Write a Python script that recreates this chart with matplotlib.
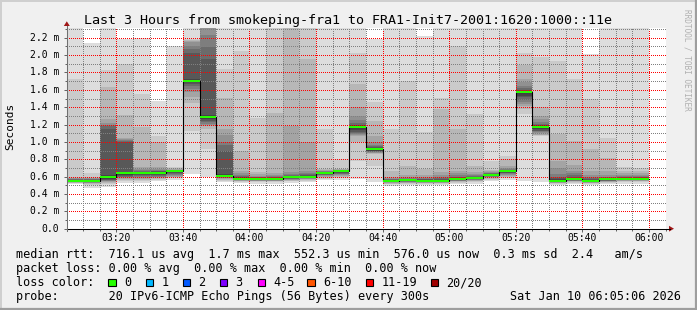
import numpy as np
import matplotlib
matplotlib.use("Agg")
import matplotlib.pyplot as plt
from matplotlib.patches import Polygon, Rectangle
from matplotlib.lines import Line2D

# ---------------- data ----------------
title = "Last 3 Hours from smokeping-fra1 to FRA1-Init7-2001:1620:1000::11e"
window_start = "03:05:06"
window_end = "06:05:06"
first_bar = "03:05"
step_min = 5

# median RTT per 5-minute step (ms)
median_ms = [0.555, 0.555, 0.595, 0.64, 0.64, 0.645, 0.66, 1.705, 1.29, 0.605,
             0.578, 0.576, 0.576, 0.59, 0.60, 0.645, 0.665, 1.175, 0.918, 0.553,
             0.556, 0.555, 0.555, 0.57, 0.58, 0.62, 0.66, 1.57, 1.175, 0.555,
             0.57, 0.555, 0.567, 0.578, 0.576]

# 20 sorted ping RTTs per step (ms); values above the chart top are clipped
pings_ms = [
    [0.515, 0.525, 0.53, 0.535, 0.538, 0.541, 0.544, 0.547, 0.55, 0.553, 0.558, 0.562, 0.566, 0.57, 0.575, 0.58, 0.585, 0.595, 1.72, 2.5],
    [0.465, 0.50, 0.515, 0.525, 0.53, 0.535, 0.54, 0.545, 0.55, 0.553, 0.558, 0.562, 0.566, 0.57, 0.575, 0.58, 0.585, 0.60, 0.64, 2.14],
    [0.48, 0.51, 0.53, 0.54, 0.545, 0.55, 0.56, 0.565, 0.575, 0.585, 0.605, 0.615, 1.15, 1.18, 1.20, 1.22, 1.26, 1.636, 1.83, 2.5],
    [0.53, 0.55, 0.56, 0.57, 0.58, 0.59, 0.60, 0.61, 0.62, 0.632, 0.648, 0.655, 1.0, 1.01, 1.02, 1.03, 1.05, 1.31, 1.90, 2.19],
    [0.53, 0.55, 0.565, 0.575, 0.585, 0.595, 0.605, 0.615, 0.625, 0.634, 0.646, 0.652, 0.658, 0.665, 0.675, 0.69, 0.71, 1.17, 1.55, 2.2],
    [0.545, 0.56, 0.57, 0.58, 0.59, 0.60, 0.61, 0.62, 0.63, 0.64, 0.65, 0.656, 0.662, 0.668, 0.675, 0.685, 0.71, 1.0, 1.07, 1.47],
    [0.56, 0.58, 0.59, 0.60, 0.61, 0.62, 0.63, 0.64, 0.648, 0.655, 0.663, 0.667, 0.67, 0.674, 0.678, 0.682, 0.688, 0.695, 0.71, 2.11],
    [0.63, 1.13, 1.45, 1.513, 1.578, 1.61, 1.647, 1.67, 1.685, 1.695, 1.715, 1.725, 2.03, 2.07, 2.11, 2.15, 2.165, 2.17, 2.19, 2.5],
    [0.59, 0.918, 1.15, 1.187, 1.20, 1.21, 1.225, 1.24, 1.26, 1.28, 1.30, 1.31, 1.955, 2.09, 2.23, 2.35, 2.4, 2.45, 2.5, 2.55],
    [0.54, 0.555, 0.565, 0.575, 0.58, 0.585, 0.59, 0.595, 0.598, 0.601, 0.615, 0.63, 0.90, 0.96, 1.0, 1.08, 1.15, 1.51, 1.84, 2.5],
    [0.525, 0.54, 0.55, 0.555, 0.56, 0.563, 0.566, 0.569, 0.572, 0.575, 0.584, 0.59, 0.597, 0.605, 0.62, 0.64, 0.67, 0.89, 2.05, 2.5],
    [0.52, 0.535, 0.545, 0.55, 0.555, 0.56, 0.564, 0.567, 0.57, 0.573, 0.58, 0.585, 0.59, 0.595, 0.60, 0.61, 0.625, 0.65, 1.28, 2.5],
    [0.52, 0.535, 0.545, 0.55, 0.555, 0.56, 0.564, 0.567, 0.57, 0.573, 0.58, 0.585, 0.59, 0.597, 0.605, 0.62, 0.64, 1.33, 2.4, 2.5],
    [0.53, 0.545, 0.555, 0.56, 0.565, 0.57, 0.575, 0.58, 0.584, 0.587, 0.595, 0.60, 0.61, 0.62, 0.635, 0.65, 1.18, 2.4, 2.45, 2.5],
    [0.54, 0.555, 0.565, 0.57, 0.575, 0.58, 0.585, 0.59, 0.594, 0.597, 0.605, 0.61, 0.62, 0.63, 0.645, 0.66, 1.0, 1.955, 2.4, 2.5],
    [0.56, 0.575, 0.585, 0.595, 0.605, 0.615, 0.622, 0.63, 0.636, 0.641, 0.649, 0.652, 0.655, 0.658, 0.662, 0.668, 0.675, 0.69, 1.15, 2.5],
    [0.56, 0.58, 0.595, 0.605, 0.615, 0.625, 0.635, 0.645, 0.652, 0.66, 0.668, 0.67, 0.672, 0.674, 0.677, 0.68, 0.685, 0.69, 0.80, 2.5],
    [0.57, 0.78, 1.0, 1.07, 1.08, 1.09, 1.10, 1.11, 1.14, 1.165, 1.183, 1.19, 1.20, 1.22, 1.25, 1.30, 1.40, 1.667, 2.03, 2.5],
    [0.54, 0.72, 0.86, 0.87, 0.875, 0.88, 0.885, 0.89, 0.90, 0.91, 0.924, 0.93, 0.94, 0.95, 0.97, 1.0, 1.07, 1.244, 1.455, 2.185],
    [0.495, 0.51, 0.52, 0.527, 0.533, 0.538, 0.542, 0.545, 0.548, 0.55, 0.556, 0.559, 0.563, 0.568, 0.575, 0.585, 0.60, 0.67, 1.15, 2.5],
    [0.50, 0.515, 0.525, 0.53, 0.535, 0.54, 0.544, 0.547, 0.55, 0.553, 0.559, 0.562, 0.568, 0.575, 0.585, 0.60, 0.62, 0.726, 1.705, 2.5],
    [0.50, 0.515, 0.525, 0.53, 0.535, 0.54, 0.544, 0.547, 0.55, 0.552, 0.558, 0.562, 0.568, 0.575, 0.585, 0.60, 0.62, 0.69, 1.11, 2.22],
    [0.50, 0.515, 0.525, 0.53, 0.535, 0.54, 0.544, 0.547, 0.55, 0.552, 0.56, 0.566, 0.575, 0.585, 0.60, 0.62, 0.65, 1.38, 1.51, 2.5],
    [0.51, 0.525, 0.535, 0.545, 0.55, 0.555, 0.558, 0.562, 0.565, 0.567, 0.575, 0.58, 0.59, 0.60, 0.62, 0.64, 0.67, 1.15, 2.11, 2.5],
    [0.52, 0.535, 0.545, 0.555, 0.56, 0.565, 0.568, 0.572, 0.575, 0.577, 0.585, 0.59, 0.597, 0.605, 0.615, 0.63, 0.65, 0.726, 1.32, 2.5],
    [0.55, 0.565, 0.575, 0.585, 0.592, 0.598, 0.604, 0.61, 0.614, 0.617, 0.623, 0.627, 0.632, 0.637, 0.645, 0.655, 0.665, 0.68, 0.78, 2.5],
    [0.56, 0.58, 0.595, 0.61, 0.62, 0.63, 0.638, 0.645, 0.651, 0.656, 0.664, 0.668, 0.675, 0.682, 0.69, 0.70, 0.72, 0.80, 0.84, 2.5],
    [0.553, 1.32, 1.38, 1.41, 1.44, 1.46, 1.48, 1.513, 1.53, 1.56, 1.578, 1.585, 1.60, 1.62, 1.65, 1.69, 1.72, 1.89, 2.03, 2.5],
    [0.534, 1.07, 1.075, 1.085, 1.10, 1.11, 1.12, 1.13, 1.15, 1.165, 1.182, 1.19, 1.20, 1.21, 1.23, 1.26, 1.30, 1.40, 1.975, 2.5],
    [0.50, 0.515, 0.525, 0.53, 0.535, 0.54, 0.544, 0.547, 0.55, 0.552, 0.56, 0.57, 0.58, 0.60, 0.63, 0.70, 0.78, 1.09, 1.93, 2.5],
    [0.51, 0.525, 0.535, 0.545, 0.55, 0.555, 0.558, 0.562, 0.565, 0.567, 0.577, 0.585, 0.60, 0.62, 0.64, 0.67, 0.73, 1.01, 1.725, 2.5],
    [0.50, 0.515, 0.525, 0.53, 0.535, 0.54, 0.544, 0.547, 0.55, 0.552, 0.56, 0.566, 0.575, 0.585, 0.60, 0.62, 0.66, 0.92, 1.49, 2.01],
    [0.51, 0.525, 0.535, 0.54, 0.545, 0.55, 0.555, 0.559, 0.562, 0.565, 0.572, 0.577, 0.583, 0.59, 0.60, 0.62, 0.66, 0.82, 1.05, 2.5],
    [0.52, 0.535, 0.545, 0.555, 0.56, 0.565, 0.568, 0.571, 0.574, 0.576, 0.581, 0.585, 0.59, 0.597, 0.605, 0.62, 0.64, 0.66, 0.71, 2.5],
    [0.515, 0.535, 0.545, 0.553, 0.558, 0.563, 0.566, 0.569, 0.572, 0.574, 0.58, 0.584, 0.59, 0.597, 0.605, 0.62, 0.64, 0.67, 0.70, 2.5],
]

x_tick_labels = ["03:20", "03:40", "04:00", "04:20", "04:40", "05:00", "05:20", "05:40", "06:00"]
y_tick_values = [0.0, 0.2, 0.4, 0.6, 0.8, 1.0, 1.2, 1.4, 1.6, 1.8, 2.0, 2.2]
y_tick_labels = ["0.0", "0.2 m", "0.4 m", "0.6 m", "0.8 m", "1.0 m", "1.2 m", "1.4 m",
                 "1.6 m", "1.8 m", "2.0 m", "2.2 m"]
y_max_ms = 2.316
y_label = "Seconds"

stat_median = "median rtt:  716.1 us avg  1.7 ms max  552.3 us min  576.0 us now  0.3 ms sd  2.4   am/s"
stat_loss = "packet loss: 0.00 % avg  0.00 % max  0.00 % min  0.00 % now"
loss_title = "loss color:"
loss_labels = ["0", "1", "2", "3", "4-5", "6-10", "11-19", "20/20"]
loss_colors = ["#26ff00", "#00b8ff", "#0059ff", "#7e00ff", "#ff00ff", "#ff5500", "#ff0000", "#a00000"]
probe_text = "probe:       20 IPv6-ICMP Echo Pings (56 Bytes) every 300s"
date_text = "Sat Jan 10 06:05:06 2026"
watermark = "RRDTOOL / TOBI OETIKER"

# ---------------- layout ----------------
W, H = 697, 310
FONT = "DejaVu Sans Mono"
ax_left_px, ax_right_px = 66.7, 666.0
ax_top_px, ax_bottom_px = 27.7, 228.7
loss_box_x_px = [108.3, 145.7, 182.7, 220.0, 257.7, 307.3, 365.7, 430.7]
PX = 72 / 100  # one pixel in points


def hm(s):
    parts = [float(p) for p in s.split(":")]
    return parts[0] * 60 + parts[1] + (parts[2] / 60 if len(parts) > 2 else 0)


def fx(x):
    return x / W


def fy(y):
    return 1 - y / H


fig = plt.figure(figsize=(W / 100, H / 100), dpi=100)
fig.patch.set_facecolor("#f0f0f0")
ax = fig.add_axes([fx(ax_left_px), fy(ax_bottom_px),
                   (ax_right_px - ax_left_px) / W, (ax_bottom_px - ax_top_px) / H])
ax.set_facecolor("white")

t0, t1 = hm(window_start), hm(window_end)
n = len(median_ms)
xs = hm(first_bar) + step_min * np.arange(n)
P = np.array(pings_ms)
med = np.array(median_ms)

# smoke: nested layers, outer light -> inner dark
half = P.shape[1] // 2
for i in range(1, half + 1):
    lo = P[:, i - 1]
    hi = P[:, P.shape[1] - i]
    g = (int(190 / half * (half - i)) + 50) / 255
    ax.bar(xs, hi - lo, bottom=lo, width=step_min, align="edge",
           color=(g, g, g), linewidth=0, antialiased=False, zorder=1)

# median step line
ax.step(np.append(xs, xs[-1] + step_min), np.append(med, med[-1]), where="post",
        color="#000000", linewidth=0.8, zorder=3)
# median band in loss colour (0 loss)
sw = y_max_ms / (ax_bottom_px - ax_top_px)
ax.bar(xs, 2 * sw * np.ones(n), bottom=med - sw, width=step_min, align="edge",
       color=loss_colors[0], linewidth=0, antialiased=False, zorder=4)

ax.set_xlim(t0, t1)
ax.set_ylim(0, y_max_ms)

major_x = [hm(s) for s in x_tick_labels]
minor_x = np.arange(hm(first_bar) + step_min, t1, step_min)
ax.set_xticks(major_x)
ax.set_xticks(minor_x, minor=True)
ax.set_yticks(y_tick_values)
ax.set_yticks(np.arange(0.1, y_max_ms, 0.2), minor=True)
ax.tick_params(which="both", labelbottom=False, labelleft=False, direction="out",
               width=0.7, color="#606060")
ax.tick_params(which="major", length=2.2)
ax.tick_params(which="minor", length=1.4)
ax.set_axisbelow(False)
dots = (0.5, (1, 1))
ax.grid(which="minor", color=(0.5, 0.5, 0.5, 0.45), linestyle=dots, linewidth=PX)
ax.grid(which="major", color=(1.0, 0.0, 0.0, 0.4), linestyle=dots, linewidth=PX)
for s in ax.spines.values():
    s.set_visible(False)

for v, lab in zip(major_x, x_tick_labels):
    ax.text(v, -(237.7 - ax_bottom_px) / (ax_bottom_px - ax_top_px), lab,
            transform=ax.get_xaxis_transform(), ha="center", va="center",
            fontsize=7, family=FONT, color="#000000")
for v, lab in zip(y_tick_values, y_tick_labels):
    ax.text(-(ax_left_px - 59.5) / (ax_right_px - ax_left_px), v, lab,
            transform=ax.get_yaxis_transform(), ha="right", va="center",
            fontsize=7, family=FONT, color="#000000")

# axis lines and arrows (figure pixel coordinates)
fig.add_artist(Line2D([fx(ax_left_px), fx(669.5)], [fy(ax_bottom_px)] * 2,
                      color="#000000", linewidth=0.75))
fig.add_artist(Line2D([fx(ax_left_px)] * 2, [fy(231), fy(25.5)],
                      color="#707070", linewidth=0.75))
fig.add_artist(Polygon([(fx(63.8), fy(26)), (fx(69.8), fy(26)), (fx(66.8), fy(21.3))],
                       closed=True, color="#a01818", linewidth=0))
fig.add_artist(Polygon([(fx(669), fy(225.8)), (fx(669), fy(231.6)), (fx(674), fy(228.7))],
                       closed=True, color="#a01818", linewidth=0))

# texts
fig.text(fx(348.5), fy(24), title, ha="center", va="baseline", fontsize=9.6, family=FONT)
fig.text(fx(10.5), fy(126.7), y_label, rotation=90, ha="center", va="center",
         fontsize=8, family=FONT)
fig.text(fx(686.7), fy(60), watermark, rotation=270, ha="center", va="center",
         fontsize=5.6, family=FONT, color="#b0b0b0")

fs = 8.5
fig.text(fx(16), fy(258.3), stat_median, ha="left", va="baseline", fontsize=fs, family=FONT)
fig.text(fx(16), fy(272.3), stat_loss, ha="left", va="baseline", fontsize=fs, family=FONT)
fig.text(fx(16), fy(286.3), loss_title, ha="left", va="baseline", fontsize=fs, family=FONT)
for bx, lab, col in zip(loss_box_x_px, loss_labels, loss_colors):
    fig.add_artist(Rectangle((fx(bx), fy(286.3)), 7.3 / W, 7.6 / H, facecolor=col,
                             edgecolor="#000000", linewidth=0.8))
    fig.text(fx(bx + 15.5), fy(286.3), lab, ha="left", va="baseline", fontsize=fs, family=FONT)
fig.text(fx(16), fy(300), probe_text, ha="left", va="baseline", fontsize=fs, family=FONT)
fig.text(fx(680.5), fy(300), date_text, ha="right", va="baseline", fontsize=fs, family=FONT)

# 3D frame
fig.add_artist(Line2D([0, 1], [fy(0.7)] * 2, color="#cfcfcf", linewidth=1.4))
fig.add_artist(Line2D([fx(0.7)] * 2, [0, 1], color="#cfcfcf", linewidth=1.4))
fig.add_artist(Line2D([0, 1], [fy(H - 1)] * 2, color="#9e9e9e", linewidth=1.6))
fig.add_artist(Line2D([fx(W - 1)] * 2, [0, 1], color="#9e9e9e", linewidth=1.6))

fig.savefig("out.png", dpi=100, facecolor=fig.get_facecolor())
